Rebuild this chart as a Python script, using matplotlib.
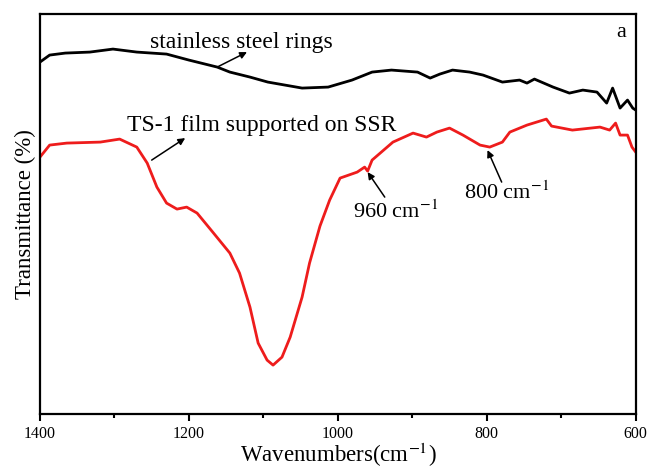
import numpy as np
import matplotlib.pyplot as plt
from matplotlib.ticker import MultipleLocator

plt.rcParams['font.family'] = ['Liberation Serif', 'DejaVu Serif']
plt.rcParams['mathtext.fontset'] = 'stix'

# FT-IR spectra, wavenumber (cm-1) vs transmittance (arb. units)
ssr_wn = [1400, 1387, 1366, 1333, 1302, 1270, 1230, 1200, 1162, 1145, 1118, 1094,
          1048, 1013, 981, 954, 928, 893, 876, 863, 846, 823, 805, 779, 756, 746,
          736, 711, 689, 671, 652, 639, 631, 621, 611, 604, 600]
ssr_t = [88.0, 89.75, 90.25, 90.5, 91.25, 90.5, 90.0, 88.5, 86.75, 85.5, 84.25, 83.0,
         81.5, 81.75, 83.5, 85.5, 86.0, 85.5, 84.0, 85.0, 86.0, 85.5, 84.75, 83.0,
         83.5, 82.75, 83.75, 81.75, 80.25, 81.0, 80.5, 77.75, 81.5, 76.5, 78.5,
         76.5, 76.0]

ts1_wn = [1400, 1387, 1364, 1319, 1293, 1270, 1256, 1243, 1230, 1216, 1203, 1189,
          1168, 1145, 1132, 1118, 1107, 1095, 1087, 1075, 1064, 1048, 1038, 1024,
          1011, 997, 974, 964, 960, 954, 926, 899, 881, 867, 850, 832, 809, 796,
          779, 769, 746, 720, 713, 685, 648, 635, 627, 621, 611, 605, 600]
ts1_t = [64.25, 67.25, 67.75, 68.0, 68.75, 66.75, 62.75, 56.75, 52.75, 51.25, 51.75,
         50.25, 45.5, 40.25, 35.25, 26.75, 17.75, 13.5, 12.25, 14.25, 19.25, 29.25,
         37.75, 47.0, 53.5, 59.0, 60.5, 61.75, 60.75, 63.5, 68.0, 70.25, 69.25, 70.5,
         71.5, 69.75, 67.25, 66.75, 68.0, 70.5, 72.25, 73.75, 72.0, 71.0, 71.75,
         71.0, 72.75, 69.75, 69.75, 66.75, 65.5]

fig = plt.figure(figsize=(6.5, 4.69), dpi=100)
ax = fig.add_axes([0.0615, 0.117, 0.9165, 0.853])

ax.plot(ssr_wn, ssr_t, color='black', lw=2)
ax.plot(ts1_wn, ts1_t, color='#ee1c1c', lw=2)

ax.set_xlim(1400, 600)
ax.set_ylim(0, 100)
ax.xaxis.set_major_locator(MultipleLocator(200))
ax.xaxis.set_minor_locator(MultipleLocator(100))
ax.set_yticks([])
ax.tick_params(axis='x', which='major', direction='out', length=5, width=1.5,
               labelsize=11.5, top=False)
ax.tick_params(axis='x', which='minor', direction='out', length=3, width=1.5, top=False)
for s in ax.spines.values():
    s.set_linewidth(1.6)

ax.set_xlabel('Wavenumbers(cm$^{-1}$)', fontsize=16.5, labelpad=-1)
ax.set_ylabel('Transmittance (%)', fontsize=16.5, labelpad=3)

arrow = dict(arrowstyle='-|>', color='black', lw=1.1, mutation_scale=10,
             shrinkA=0, shrinkB=0)
fs = 17
ax.annotate('', xy=(1122, 90.5), xytext=(1162, 86.75), arrowprops=arrow)
ax.text(1129, 93, 'stainless steel rings', fontsize=fs, ha='center', va='center')

ax.annotate('', xy=(1205, 69), xytext=(1250, 63.5), arrowprops=arrow)
ax.text(1102, 72.25, 'TS-1 film supported on SSR', fontsize=fs, ha='center', va='center')

ax.annotate('', xy=(960, 60.5), xytext=(937, 54.25), arrowprops=arrow)
ax.text(923, 50.5, '960 cm$^{-1}$', fontsize=16, ha='center', va='center')

ax.annotate('', xy=(799, 66), xytext=(780, 58), arrowprops=arrow)
ax.text(773, 55.25, '800 cm$^{-1}$', fontsize=16, ha='center', va='center')

ax.text(619, 95.5, 'a', fontsize=16, ha='center', va='center')

fig.savefig('out.png', dpi=100)
